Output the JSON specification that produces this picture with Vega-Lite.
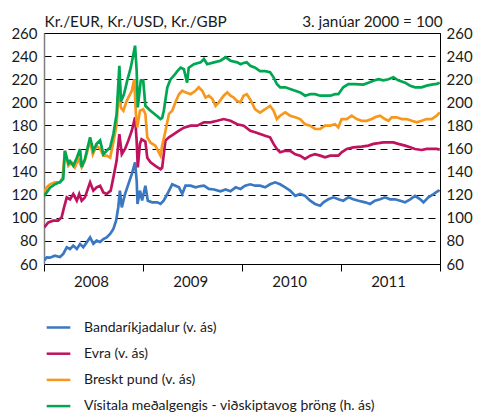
{
 "$schema": "https://vega.github.io/schema/vega-lite/v6.json",
 "width": 396, "height": 231,
 "autosize": {"type": "none"},
 "padding": {"left": 44, "top": 33, "right": 46, "bottom": 150},
 "background": "white",
 "config": {
  "font": "Lato",
  "view": {"stroke": "black", "strokeWidth": 1},
  "axis": {"labelFont": "Lato", "labelFontSize": 15, "labelColor": "#1a1a1a", "titleFont": "Lato", "titleFontWeight": "normal", "titleFontSize": 15.3, "titleColor": "#1a1a1a"}
 },
 "data": {"values": [
  {"date":"2008-01-02","series":"Bandaríkjadalur (v. ás)","value":63},
  {"date":"2008-01-11","series":"Bandaríkjadalur (v. ás)","value":65.8},
  {"date":"2008-01-23","series":"Bandaríkjadalur (v. ás)","value":65.5},
  {"date":"2008-02-10","series":"Bandaríkjadalur (v. ás)","value":67.2},
  {"date":"2008-02-29","series":"Bandaríkjadalur (v. ás)","value":66},
  {"date":"2008-03-12","series":"Bandaríkjadalur (v. ás)","value":68.7},
  {"date":"2008-03-25","series":"Bandaríkjadalur (v. ás)","value":74.4},
  {"date":"2008-04-06","series":"Bandaríkjadalur (v. ás)","value":73},
  {"date":"2008-04-18","series":"Bandaríkjadalur (v. ás)","value":75.9},
  {"date":"2008-05-01","series":"Bandaríkjadalur (v. ás)","value":73},
  {"date":"2008-05-13","series":"Bandaríkjadalur (v. ás)","value":77.3},
  {"date":"2008-05-25","series":"Bandaríkjadalur (v. ás)","value":74.5},
  {"date":"2008-06-07","series":"Bandaríkjadalur (v. ás)","value":78.8},
  {"date":"2008-06-19","series":"Bandaríkjadalur (v. ás)","value":83},
  {"date":"2008-07-01","series":"Bandaríkjadalur (v. ás)","value":77.5},
  {"date":"2008-07-13","series":"Bandaríkjadalur (v. ás)","value":80.2},
  {"date":"2008-07-26","series":"Bandaríkjadalur (v. ás)","value":79},
  {"date":"2008-08-07","series":"Bandaríkjadalur (v. ás)","value":81.6},
  {"date":"2008-08-19","series":"Bandaríkjadalur (v. ás)","value":83},
  {"date":"2008-09-01","series":"Bandaríkjadalur (v. ás)","value":86},
  {"date":"2008-09-13","series":"Bandaríkjadalur (v. ás)","value":90.3},
  {"date":"2008-09-23","series":"Bandaríkjadalur (v. ás)","value":97.5},
  {"date":"2008-10-01","series":"Bandaríkjadalur (v. ás)","value":109},
  {"date":"2008-10-07","series":"Bandaríkjadalur (v. ás)","value":123.5},
  {"date":"2008-10-14","series":"Bandaríkjadalur (v. ás)","value":109},
  {"date":"2008-10-26","series":"Bandaríkjadalur (v. ás)","value":120.6},
  {"date":"2008-11-07","series":"Bandaríkjadalur (v. ás)","value":129},
  {"date":"2008-11-20","series":"Bandaríkjadalur (v. ás)","value":138},
  {"date":"2008-12-02","series":"Bandaríkjadalur (v. ás)","value":148},
  {"date":"2008-12-08","series":"Bandaríkjadalur (v. ás)","value":132},
  {"date":"2008-12-11","series":"Bandaríkjadalur (v. ás)","value":112},
  {"date":"2008-12-20","series":"Bandaríkjadalur (v. ás)","value":123.5},
  {"date":"2008-12-28","series":"Bandaríkjadalur (v. ás)","value":115},
  {"date":"2009-01-09","series":"Bandaríkjadalur (v. ás)","value":127.8},
  {"date":"2009-01-18","series":"Bandaríkjadalur (v. ás)","value":114.8},
  {"date":"2009-02-03","series":"Bandaríkjadalur (v. ás)","value":113.4},
  {"date":"2009-02-22","series":"Bandaríkjadalur (v. ás)","value":113.4},
  {"date":"2009-03-06","series":"Bandaríkjadalur (v. ás)","value":112},
  {"date":"2009-03-18","series":"Bandaríkjadalur (v. ás)","value":115},
  {"date":"2009-03-31","series":"Bandaríkjadalur (v. ás)","value":120.6},
  {"date":"2009-04-18","series":"Bandaríkjadalur (v. ás)","value":129},
  {"date":"2009-04-30","series":"Bandaríkjadalur (v. ás)","value":127.8},
  {"date":"2009-05-13","series":"Bandaríkjadalur (v. ás)","value":126.4},
  {"date":"2009-05-25","series":"Bandaríkjadalur (v. ás)","value":120.6},
  {"date":"2009-06-06","series":"Bandaríkjadalur (v. ás)","value":127.8},
  {"date":"2009-06-25","series":"Bandaríkjadalur (v. ás)","value":127.8},
  {"date":"2009-07-13","series":"Bandaríkjadalur (v. ás)","value":126.4},
  {"date":"2009-08-01","series":"Bandaríkjadalur (v. ás)","value":127.5},
  {"date":"2009-08-13","series":"Bandaríkjadalur (v. ás)","value":127.8},
  {"date":"2009-08-31","series":"Bandaríkjadalur (v. ás)","value":125},
  {"date":"2009-09-19","series":"Bandaríkjadalur (v. ás)","value":124.5},
  {"date":"2009-10-13","series":"Bandaríkjadalur (v. ás)","value":123},
  {"date":"2009-11-01","series":"Bandaríkjadalur (v. ás)","value":124.5},
  {"date":"2009-11-19","series":"Bandaríkjadalur (v. ás)","value":123},
  {"date":"2009-12-08","series":"Bandaríkjadalur (v. ás)","value":126.4},
  {"date":"2009-12-26","series":"Bandaríkjadalur (v. ás)","value":125},
  {"date":"2010-01-12","series":"Bandaríkjadalur (v. ás)","value":127.8},
  {"date":"2010-01-31","series":"Bandaríkjadalur (v. ás)","value":129},
  {"date":"2010-02-18","series":"Bandaríkjadalur (v. ás)","value":127.8},
  {"date":"2010-03-08","series":"Bandaríkjadalur (v. ás)","value":127.8},
  {"date":"2010-03-27","series":"Bandaríkjadalur (v. ás)","value":126.4},
  {"date":"2010-04-14","series":"Bandaríkjadalur (v. ás)","value":129},
  {"date":"2010-05-03","series":"Bandaríkjadalur (v. ás)","value":130.7},
  {"date":"2010-05-21","series":"Bandaríkjadalur (v. ás)","value":129},
  {"date":"2010-06-09","series":"Bandaríkjadalur (v. ás)","value":126.4},
  {"date":"2010-06-27","series":"Bandaríkjadalur (v. ás)","value":123.5},
  {"date":"2010-07-16","series":"Bandaríkjadalur (v. ás)","value":119},
  {"date":"2010-08-03","series":"Bandaríkjadalur (v. ás)","value":120.6},
  {"date":"2010-08-21","series":"Bandaríkjadalur (v. ás)","value":119},
  {"date":"2010-09-09","series":"Bandaríkjadalur (v. ás)","value":114.8},
  {"date":"2010-09-27","series":"Bandaríkjadalur (v. ás)","value":112},
  {"date":"2010-10-16","series":"Bandaríkjadalur (v. ás)","value":110.5},
  {"date":"2010-10-28","series":"Bandaríkjadalur (v. ás)","value":113.4},
  {"date":"2010-11-15","series":"Bandaríkjadalur (v. ás)","value":116},
  {"date":"2010-12-04","series":"Bandaríkjadalur (v. ás)","value":117.7},
  {"date":"2010-12-22","series":"Bandaríkjadalur (v. ás)","value":116},
  {"date":"2011-01-09","series":"Bandaríkjadalur (v. ás)","value":114.8},
  {"date":"2011-01-28","series":"Bandaríkjadalur (v. ás)","value":117.7},
  {"date":"2011-02-15","series":"Bandaríkjadalur (v. ás)","value":116},
  {"date":"2011-03-06","series":"Bandaríkjadalur (v. ás)","value":114.8},
  {"date":"2011-03-31","series":"Bandaríkjadalur (v. ás)","value":113.4},
  {"date":"2011-04-18","series":"Bandaríkjadalur (v. ás)","value":112},
  {"date":"2011-05-06","series":"Bandaríkjadalur (v. ás)","value":114.8},
  {"date":"2011-05-25","series":"Bandaríkjadalur (v. ás)","value":116},
  {"date":"2011-06-12","series":"Bandaríkjadalur (v. ás)","value":117.7},
  {"date":"2011-07-01","series":"Bandaríkjadalur (v. ás)","value":116},
  {"date":"2011-07-19","series":"Bandaríkjadalur (v. ás)","value":116},
  {"date":"2011-08-07","series":"Bandaríkjadalur (v. ás)","value":114.8},
  {"date":"2011-08-25","series":"Bandaríkjadalur (v. ás)","value":113.4},
  {"date":"2011-09-13","series":"Bandaríkjadalur (v. ás)","value":116},
  {"date":"2011-10-01","series":"Bandaríkjadalur (v. ás)","value":119},
  {"date":"2011-10-20","series":"Bandaríkjadalur (v. ás)","value":116},
  {"date":"2011-11-01","series":"Bandaríkjadalur (v. ás)","value":113.4},
  {"date":"2011-11-19","series":"Bandaríkjadalur (v. ás)","value":117.7},
  {"date":"2011-12-08","series":"Bandaríkjadalur (v. ás)","value":120.6},
  {"date":"2011-12-26","series":"Bandaríkjadalur (v. ás)","value":123.5},
  {"date":"2011-12-31","series":"Bandaríkjadalur (v. ás)","value":123},

  {"date":"2008-01-02","series":"Evra (v. ás)","value":91.7},
  {"date":"2008-01-17","series":"Evra (v. ás)","value":96},
  {"date":"2008-02-04","series":"Evra (v. ás)","value":97.5},
  {"date":"2008-02-22","series":"Evra (v. ás)","value":97.5},
  {"date":"2008-03-06","series":"Evra (v. ás)","value":100.4},
  {"date":"2008-03-15","series":"Evra (v. ás)","value":109},
  {"date":"2008-03-25","series":"Evra (v. ás)","value":117.7},
  {"date":"2008-04-06","series":"Evra (v. ás)","value":116},
  {"date":"2008-04-18","series":"Evra (v. ás)","value":120.6},
  {"date":"2008-05-01","series":"Evra (v. ás)","value":114.8},
  {"date":"2008-05-10","series":"Evra (v. ás)","value":120.6},
  {"date":"2008-05-19","series":"Evra (v. ás)","value":114.8},
  {"date":"2008-05-31","series":"Evra (v. ás)","value":117.7},
  {"date":"2008-06-19","series":"Evra (v. ás)","value":130.7},
  {"date":"2008-07-01","series":"Evra (v. ás)","value":123.5},
  {"date":"2008-07-13","series":"Evra (v. ás)","value":126.4},
  {"date":"2008-07-26","series":"Evra (v. ás)","value":127.8},
  {"date":"2008-08-07","series":"Evra (v. ás)","value":122},
  {"date":"2008-08-19","series":"Evra (v. ás)","value":120.6},
  {"date":"2008-09-03","series":"Evra (v. ás)","value":123.5},
  {"date":"2008-09-13","series":"Evra (v. ás)","value":135},
  {"date":"2008-09-25","series":"Evra (v. ás)","value":149.5},
  {"date":"2008-10-05","series":"Evra (v. ás)","value":172.5},
  {"date":"2008-10-14","series":"Evra (v. ás)","value":155},
  {"date":"2008-10-26","series":"Evra (v. ás)","value":159.6},
  {"date":"2008-11-07","series":"Evra (v. ás)","value":166.8},
  {"date":"2008-11-20","series":"Evra (v. ás)","value":175.4},
  {"date":"2008-12-02","series":"Evra (v. ás)","value":187},
  {"date":"2008-12-08","series":"Evra (v. ás)","value":166},
  {"date":"2008-12-12","series":"Evra (v. ás)","value":143.7},
  {"date":"2008-12-20","series":"Evra (v. ás)","value":164},
  {"date":"2008-12-26","series":"Evra (v. ás)","value":168},
  {"date":"2009-01-09","series":"Evra (v. ás)","value":166},
  {"date":"2009-01-16","series":"Evra (v. ás)","value":152},
  {"date":"2009-01-28","series":"Evra (v. ás)","value":148},
  {"date":"2009-02-15","series":"Evra (v. ás)","value":145},
  {"date":"2009-03-06","series":"Evra (v. ás)","value":142},
  {"date":"2009-03-12","series":"Evra (v. ás)","value":143.5},
  {"date":"2009-03-24","series":"Evra (v. ás)","value":166.8},
  {"date":"2009-04-06","series":"Evra (v. ás)","value":169.7},
  {"date":"2009-04-24","series":"Evra (v. ás)","value":172.5},
  {"date":"2009-05-13","series":"Evra (v. ás)","value":175.4},
  {"date":"2009-05-31","series":"Evra (v. ás)","value":178},
  {"date":"2009-06-25","series":"Evra (v. ás)","value":179.8},
  {"date":"2009-07-19","series":"Evra (v. ás)","value":179.8},
  {"date":"2009-08-13","series":"Evra (v. ás)","value":182.7},
  {"date":"2009-09-06","series":"Evra (v. ás)","value":182.7},
  {"date":"2009-10-01","series":"Evra (v. ás)","value":184},
  {"date":"2009-10-25","series":"Evra (v. ás)","value":185.5},
  {"date":"2009-11-19","series":"Evra (v. ás)","value":184},
  {"date":"2009-12-14","series":"Evra (v. ás)","value":181},
  {"date":"2010-01-07","series":"Evra (v. ás)","value":179.8},
  {"date":"2010-01-31","series":"Evra (v. ás)","value":175.4},
  {"date":"2010-02-18","series":"Evra (v. ás)","value":174},
  {"date":"2010-03-08","series":"Evra (v. ás)","value":172.5},
  {"date":"2010-03-27","series":"Evra (v. ás)","value":171},
  {"date":"2010-04-14","series":"Evra (v. ás)","value":169.7},
  {"date":"2010-04-27","series":"Evra (v. ás)","value":164},
  {"date":"2010-05-09","series":"Evra (v. ás)","value":159.6},
  {"date":"2010-05-21","series":"Evra (v. ás)","value":156.7},
  {"date":"2010-06-09","series":"Evra (v. ás)","value":158},
  {"date":"2010-06-27","series":"Evra (v. ás)","value":158},
  {"date":"2010-07-16","series":"Evra (v. ás)","value":155},
  {"date":"2010-08-03","series":"Evra (v. ás)","value":153.8},
  {"date":"2010-08-21","series":"Evra (v. ás)","value":151},
  {"date":"2010-09-09","series":"Evra (v. ás)","value":153.8},
  {"date":"2010-09-27","series":"Evra (v. ás)","value":155},
  {"date":"2010-10-16","series":"Evra (v. ás)","value":153.8},
  {"date":"2010-11-03","series":"Evra (v. ás)","value":152.4},
  {"date":"2010-11-22","series":"Evra (v. ás)","value":153.8},
  {"date":"2010-12-10","series":"Evra (v. ás)","value":153.8},
  {"date":"2010-12-22","series":"Evra (v. ás)","value":153.8},
  {"date":"2011-01-03","series":"Evra (v. ás)","value":156.7},
  {"date":"2011-01-22","series":"Evra (v. ás)","value":159.6},
  {"date":"2011-02-15","series":"Evra (v. ás)","value":161},
  {"date":"2011-03-18","series":"Evra (v. ás)","value":161.6},
  {"date":"2011-04-12","series":"Evra (v. ás)","value":162.5},
  {"date":"2011-04-30","series":"Evra (v. ás)","value":164},
  {"date":"2011-05-19","series":"Evra (v. ás)","value":164.6},
  {"date":"2011-06-06","series":"Evra (v. ás)","value":165.3},
  {"date":"2011-06-25","series":"Evra (v. ás)","value":165.3},
  {"date":"2011-07-13","series":"Evra (v. ás)","value":165.3},
  {"date":"2011-07-31","series":"Evra (v. ás)","value":164},
  {"date":"2011-08-25","series":"Evra (v. ás)","value":162.5},
  {"date":"2011-09-13","series":"Evra (v. ás)","value":161},
  {"date":"2011-10-01","series":"Evra (v. ás)","value":159.6},
  {"date":"2011-10-25","series":"Evra (v. ás)","value":158.7},
  {"date":"2011-11-13","series":"Evra (v. ás)","value":159.6},
  {"date":"2011-12-01","series":"Evra (v. ás)","value":159.6},
  {"date":"2011-12-20","series":"Evra (v. ás)","value":159.6},
  {"date":"2011-12-31","series":"Evra (v. ás)","value":159},

  {"date":"2008-01-02","series":"Breskt pund (v. ás)","value":122},
  {"date":"2008-01-11","series":"Breskt pund (v. ás)","value":126.4},
  {"date":"2008-01-23","series":"Breskt pund (v. ás)","value":129},
  {"date":"2008-02-10","series":"Breskt pund (v. ás)","value":130.7},
  {"date":"2008-02-29","series":"Breskt pund (v. ás)","value":130.7},
  {"date":"2008-03-10","series":"Breskt pund (v. ás)","value":135},
  {"date":"2008-03-18","series":"Breskt pund (v. ás)","value":158},
  {"date":"2008-03-31","series":"Breskt pund (v. ás)","value":145},
  {"date":"2008-04-12","series":"Breskt pund (v. ás)","value":148},
  {"date":"2008-04-24","series":"Breskt pund (v. ás)","value":143.7},
  {"date":"2008-05-07","series":"Breskt pund (v. ás)","value":151},
  {"date":"2008-05-19","series":"Breskt pund (v. ás)","value":143.7},
  {"date":"2008-05-31","series":"Breskt pund (v. ás)","value":149.5},
  {"date":"2008-06-19","series":"Breskt pund (v. ás)","value":166.8},
  {"date":"2008-06-29","series":"Breskt pund (v. ás)","value":155},
  {"date":"2008-07-13","series":"Breskt pund (v. ás)","value":162.5},
  {"date":"2008-07-26","series":"Breskt pund (v. ás)","value":159.6},
  {"date":"2008-08-07","series":"Breskt pund (v. ás)","value":153.8},
  {"date":"2008-08-19","series":"Breskt pund (v. ás)","value":153.8},
  {"date":"2008-09-01","series":"Breskt pund (v. ás)","value":152},
  {"date":"2008-09-13","series":"Breskt pund (v. ás)","value":165.3},
  {"date":"2008-09-25","series":"Breskt pund (v. ás)","value":181},
  {"date":"2008-10-05","series":"Breskt pund (v. ás)","value":221.6},
  {"date":"2008-10-10","series":"Breskt pund (v. ás)","value":195.6},
  {"date":"2008-10-20","series":"Breskt pund (v. ás)","value":192.7},
  {"date":"2008-10-30","series":"Breskt pund (v. ás)","value":200},
  {"date":"2008-11-07","series":"Breskt pund (v. ás)","value":204},
  {"date":"2008-11-20","series":"Breskt pund (v. ás)","value":210},
  {"date":"2008-11-29","series":"Breskt pund (v. ás)","value":220},
  {"date":"2008-12-05","series":"Breskt pund (v. ás)","value":190},
  {"date":"2008-12-10","series":"Breskt pund (v. ás)","value":178.3},
  {"date":"2008-12-20","series":"Breskt pund (v. ás)","value":192.7},
  {"date":"2009-01-01","series":"Breskt pund (v. ás)","value":194},
  {"date":"2009-01-09","series":"Breskt pund (v. ás)","value":190},
  {"date":"2009-01-16","series":"Breskt pund (v. ás)","value":169.7},
  {"date":"2009-01-28","series":"Breskt pund (v. ás)","value":165},
  {"date":"2009-02-15","series":"Breskt pund (v. ás)","value":162.5},
  {"date":"2009-03-06","series":"Breskt pund (v. ás)","value":153.8},
  {"date":"2009-03-12","series":"Breskt pund (v. ás)","value":162.5},
  {"date":"2009-03-24","series":"Breskt pund (v. ás)","value":175},
  {"date":"2009-04-06","series":"Breskt pund (v. ás)","value":190},
  {"date":"2009-04-18","series":"Breskt pund (v. ás)","value":192.7},
  {"date":"2009-04-30","series":"Breskt pund (v. ás)","value":200},
  {"date":"2009-05-13","series":"Breskt pund (v. ás)","value":207},
  {"date":"2009-05-25","series":"Breskt pund (v. ás)","value":210},
  {"date":"2009-06-06","series":"Breskt pund (v. ás)","value":208.6},
  {"date":"2009-06-25","series":"Breskt pund (v. ás)","value":207},
  {"date":"2009-07-13","series":"Breskt pund (v. ás)","value":210},
  {"date":"2009-07-25","series":"Breskt pund (v. ás)","value":213},
  {"date":"2009-08-07","series":"Breskt pund (v. ás)","value":210},
  {"date":"2009-08-19","series":"Breskt pund (v. ás)","value":204},
  {"date":"2009-08-31","series":"Breskt pund (v. ás)","value":205.7},
  {"date":"2009-09-13","series":"Breskt pund (v. ás)","value":203},
  {"date":"2009-09-25","series":"Breskt pund (v. ás)","value":197},
  {"date":"2009-10-07","series":"Breskt pund (v. ás)","value":200},
  {"date":"2009-10-25","series":"Breskt pund (v. ás)","value":205.7},
  {"date":"2009-11-07","series":"Breskt pund (v. ás)","value":208.6},
  {"date":"2009-11-19","series":"Breskt pund (v. ás)","value":205.7},
  {"date":"2009-12-01","series":"Breskt pund (v. ás)","value":204},
  {"date":"2009-12-14","series":"Breskt pund (v. ás)","value":201},
  {"date":"2009-12-26","series":"Breskt pund (v. ás)","value":200},
  {"date":"2010-01-06","series":"Breskt pund (v. ás)","value":205.7},
  {"date":"2010-01-18","series":"Breskt pund (v. ás)","value":207},
  {"date":"2010-01-31","series":"Breskt pund (v. ás)","value":202.5},
  {"date":"2010-02-18","series":"Breskt pund (v. ás)","value":194},
  {"date":"2010-03-08","series":"Breskt pund (v. ás)","value":191},
  {"date":"2010-03-27","series":"Breskt pund (v. ás)","value":194},
  {"date":"2010-04-14","series":"Breskt pund (v. ás)","value":197},
  {"date":"2010-04-27","series":"Breskt pund (v. ás)","value":192.7},
  {"date":"2010-05-09","series":"Breskt pund (v. ás)","value":185.5},
  {"date":"2010-05-21","series":"Breskt pund (v. ás)","value":188.4},
  {"date":"2010-06-09","series":"Breskt pund (v. ás)","value":191.3},
  {"date":"2010-06-27","series":"Breskt pund (v. ás)","value":188.4},
  {"date":"2010-07-16","series":"Breskt pund (v. ás)","value":187},
  {"date":"2010-08-03","series":"Breskt pund (v. ás)","value":185.5},
  {"date":"2010-08-21","series":"Breskt pund (v. ás)","value":181},
  {"date":"2010-09-09","series":"Breskt pund (v. ás)","value":179.8},
  {"date":"2010-09-27","series":"Breskt pund (v. ás)","value":176.9},
  {"date":"2010-10-16","series":"Breskt pund (v. ás)","value":176.9},
  {"date":"2010-11-03","series":"Breskt pund (v. ás)","value":179.8},
  {"date":"2010-11-22","series":"Breskt pund (v. ás)","value":179.8},
  {"date":"2010-12-10","series":"Breskt pund (v. ás)","value":181},
  {"date":"2010-12-22","series":"Breskt pund (v. ás)","value":178.3},
  {"date":"2011-01-03","series":"Breskt pund (v. ás)","value":185.5},
  {"date":"2011-01-22","series":"Breskt pund (v. ás)","value":185.5},
  {"date":"2011-02-09","series":"Breskt pund (v. ás)","value":188.4},
  {"date":"2011-02-28","series":"Breskt pund (v. ás)","value":185.5},
  {"date":"2011-03-18","series":"Breskt pund (v. ás)","value":184},
  {"date":"2011-04-06","series":"Breskt pund (v. ás)","value":184},
  {"date":"2011-04-24","series":"Breskt pund (v. ás)","value":185.5},
  {"date":"2011-05-06","series":"Breskt pund (v. ás)","value":187},
  {"date":"2011-05-25","series":"Breskt pund (v. ás)","value":188.4},
  {"date":"2011-06-12","series":"Breskt pund (v. ás)","value":185.5},
  {"date":"2011-06-25","series":"Breskt pund (v. ás)","value":184},
  {"date":"2011-07-07","series":"Breskt pund (v. ás)","value":187},
  {"date":"2011-07-25","series":"Breskt pund (v. ás)","value":187},
  {"date":"2011-08-13","series":"Breskt pund (v. ás)","value":185.5},
  {"date":"2011-08-31","series":"Breskt pund (v. ás)","value":185.5},
  {"date":"2011-09-19","series":"Breskt pund (v. ás)","value":184},
  {"date":"2011-10-07","series":"Breskt pund (v. ás)","value":182.7},
  {"date":"2011-10-25","series":"Breskt pund (v. ás)","value":184},
  {"date":"2011-11-13","series":"Breskt pund (v. ás)","value":185.5},
  {"date":"2011-12-01","series":"Breskt pund (v. ás)","value":185.5},
  {"date":"2011-12-20","series":"Breskt pund (v. ás)","value":188.4},
  {"date":"2011-12-31","series":"Breskt pund (v. ás)","value":191.3},

  {"date":"2008-01-02","series":"Vísitala meðalgengis - viðskiptavog þröng (h. ás)","value":119},
  {"date":"2008-01-23","series":"Vísitala meðalgengis - viðskiptavog þröng (h. ás)","value":126},
  {"date":"2008-02-10","series":"Vísitala meðalgengis - viðskiptavog þröng (h. ás)","value":129},
  {"date":"2008-02-29","series":"Vísitala meðalgengis - viðskiptavog þröng (h. ás)","value":131},
  {"date":"2008-03-12","series":"Vísitala meðalgengis - viðskiptavog þröng (h. ás)","value":133.6},
  {"date":"2008-03-18","series":"Vísitala meðalgengis - viðskiptavog þröng (h. ás)","value":158},
  {"date":"2008-03-31","series":"Vísitala meðalgengis - viðskiptavog þröng (h. ás)","value":147},
  {"date":"2008-04-06","series":"Vísitala meðalgengis - viðskiptavog þröng (h. ás)","value":149},
  {"date":"2008-04-18","series":"Vísitala meðalgengis - viðskiptavog þröng (h. ás)","value":145},
  {"date":"2008-05-01","series":"Vísitala meðalgengis - viðskiptavog þröng (h. ás)","value":152},
  {"date":"2008-05-13","series":"Vísitala meðalgengis - viðskiptavog þröng (h. ás)","value":159.5},
  {"date":"2008-05-19","series":"Vísitala meðalgengis - viðskiptavog þröng (h. ás)","value":144},
  {"date":"2008-05-31","series":"Vísitala meðalgengis - viðskiptavog þröng (h. ás)","value":151},
  {"date":"2008-06-19","series":"Vísitala meðalgengis - viðskiptavog þröng (h. ás)","value":169.7},
  {"date":"2008-07-01","series":"Vísitala meðalgengis - viðskiptavog þröng (h. ás)","value":158},
  {"date":"2008-07-13","series":"Vísitala meðalgengis - viðskiptavog þröng (h. ás)","value":164},
  {"date":"2008-07-26","series":"Vísitala meðalgengis - viðskiptavog þröng (h. ás)","value":167},
  {"date":"2008-08-07","series":"Vísitala meðalgengis - viðskiptavog þröng (h. ás)","value":155},
  {"date":"2008-08-19","series":"Vísitala meðalgengis - viðskiptavog þröng (h. ás)","value":158},
  {"date":"2008-09-01","series":"Vísitala meðalgengis - viðskiptavog þröng (h. ás)","value":161},
  {"date":"2008-09-13","series":"Vísitala meðalgengis - viðskiptavog þröng (h. ás)","value":172.5},
  {"date":"2008-09-25","series":"Vísitala meðalgengis - viðskiptavog þröng (h. ás)","value":190},
  {"date":"2008-10-05","series":"Vísitala meðalgengis - viðskiptavog þröng (h. ás)","value":231.6},
  {"date":"2008-10-11","series":"Vísitala meðalgengis - viðskiptavog þröng (h. ás)","value":200.6},
  {"date":"2008-10-22","series":"Vísitala meðalgengis - viðskiptavog þröng (h. ás)","value":207},
  {"date":"2008-11-03","series":"Vísitala meðalgengis - viðskiptavog þröng (h. ás)","value":218.7},
  {"date":"2008-11-16","series":"Vísitala meðalgengis - viðskiptavog þröng (h. ás)","value":230},
  {"date":"2008-12-02","series":"Vísitala meðalgengis - viðskiptavog þröng (h. ás)","value":249},
  {"date":"2008-12-08","series":"Vísitala meðalgengis - viðskiptavog þröng (h. ás)","value":227},
  {"date":"2008-12-12","series":"Vísitala meðalgengis - viðskiptavog þröng (h. ás)","value":195.6},
  {"date":"2008-12-23","series":"Vísitala meðalgengis - viðskiptavog þröng (h. ás)","value":218.7},
  {"date":"2009-01-01","series":"Vísitala meðalgengis - viðskiptavog þröng (h. ás)","value":219},
  {"date":"2009-01-09","series":"Vísitala meðalgengis - viðskiptavog þröng (h. ás)","value":197},
  {"date":"2009-01-28","series":"Vísitala meðalgengis - viðskiptavog þröng (h. ás)","value":192.7},
  {"date":"2009-02-22","series":"Vísitala meðalgengis - viðskiptavog þröng (h. ás)","value":188},
  {"date":"2009-03-06","series":"Vísitala meðalgengis - viðskiptavog þröng (h. ás)","value":185.5},
  {"date":"2009-03-12","series":"Vísitala meðalgengis - viðskiptavog þröng (h. ás)","value":186.5},
  {"date":"2009-03-18","series":"Vísitala meðalgengis - viðskiptavog þröng (h. ás)","value":192.7},
  {"date":"2009-03-31","series":"Vísitala meðalgengis - viðskiptavog þröng (h. ás)","value":213},
  {"date":"2009-04-12","series":"Vísitala meðalgengis - viðskiptavog þröng (h. ás)","value":220},
  {"date":"2009-04-24","series":"Vísitala meðalgengis - viðskiptavog þröng (h. ás)","value":223},
  {"date":"2009-05-07","series":"Vísitala meðalgengis - viðskiptavog þröng (h. ás)","value":227},
  {"date":"2009-05-19","series":"Vísitala meðalgengis - viðskiptavog þröng (h. ás)","value":230},
  {"date":"2009-05-31","series":"Vísitala meðalgengis - viðskiptavog þröng (h. ás)","value":228.6},
  {"date":"2009-06-12","series":"Vísitala meðalgengis - viðskiptavog þröng (h. ás)","value":217},
  {"date":"2009-06-18","series":"Vísitala meðalgengis - viðskiptavog þröng (h. ás)","value":230},
  {"date":"2009-07-07","series":"Vísitala meðalgengis - viðskiptavog þröng (h. ás)","value":233},
  {"date":"2009-08-01","series":"Vísitala meðalgengis - viðskiptavog þröng (h. ás)","value":234.6},
  {"date":"2009-08-13","series":"Vísitala meðalgengis - viðskiptavog þröng (h. ás)","value":237.5},
  {"date":"2009-08-25","series":"Vísitala meðalgengis - viðskiptavog þröng (h. ás)","value":233},
  {"date":"2009-09-19","series":"Vísitala meðalgengis - viðskiptavog þröng (h. ás)","value":234.6},
  {"date":"2009-10-13","series":"Vísitala meðalgengis - viðskiptavog þröng (h. ás)","value":236},
  {"date":"2009-11-01","series":"Vísitala meðalgengis - viðskiptavog þröng (h. ás)","value":239},
  {"date":"2009-11-19","series":"Vísitala meðalgengis - viðskiptavog þröng (h. ás)","value":236},
  {"date":"2009-12-14","series":"Vísitala meðalgengis - viðskiptavog þröng (h. ás)","value":234.6},
  {"date":"2009-12-26","series":"Vísitala meðalgengis - viðskiptavog þröng (h. ás)","value":233},
  {"date":"2010-01-06","series":"Vísitala meðalgengis - viðskiptavog þröng (h. ás)","value":234},
  {"date":"2010-01-18","series":"Vísitala meðalgengis - viðskiptavog þröng (h. ás)","value":234.6},
  {"date":"2010-01-31","series":"Vísitala meðalgengis - viðskiptavog þröng (h. ás)","value":231.6},
  {"date":"2010-02-18","series":"Vísitala meðalgengis - viðskiptavog þröng (h. ás)","value":230},
  {"date":"2010-03-08","series":"Vísitala meðalgengis - viðskiptavog þröng (h. ás)","value":227},
  {"date":"2010-03-27","series":"Vísitala meðalgengis - viðskiptavog þröng (h. ás)","value":227},
  {"date":"2010-04-14","series":"Vísitala meðalgengis - viðskiptavog þröng (h. ás)","value":226},
  {"date":"2010-04-27","series":"Vísitala meðalgengis - viðskiptavog þröng (h. ás)","value":221.6},
  {"date":"2010-05-09","series":"Vísitala meðalgengis - viðskiptavog þröng (h. ás)","value":215.8},
  {"date":"2010-05-21","series":"Vísitala meðalgengis - viðskiptavog þröng (h. ás)","value":213},
  {"date":"2010-06-09","series":"Vísitala meðalgengis - viðskiptavog þröng (h. ás)","value":213},
  {"date":"2010-06-27","series":"Vísitala meðalgengis - viðskiptavog þröng (h. ás)","value":211.5},
  {"date":"2010-07-16","series":"Vísitala meðalgengis - viðskiptavog þröng (h. ás)","value":210},
  {"date":"2010-08-03","series":"Vísitala meðalgengis - viðskiptavog þröng (h. ás)","value":208.6},
  {"date":"2010-08-21","series":"Vísitala meðalgengis - viðskiptavog þröng (h. ás)","value":205.7},
  {"date":"2010-09-09","series":"Vísitala meðalgengis - viðskiptavog þröng (h. ás)","value":207},
  {"date":"2010-09-27","series":"Vísitala meðalgengis - viðskiptavog þröng (h. ás)","value":207},
  {"date":"2010-10-16","series":"Vísitala meðalgengis - viðskiptavog þröng (h. ás)","value":205.7},
  {"date":"2010-11-03","series":"Vísitala meðalgengis - viðskiptavog þröng (h. ás)","value":205.7},
  {"date":"2010-11-22","series":"Vísitala meðalgengis - viðskiptavog þröng (h. ás)","value":205.7},
  {"date":"2010-12-10","series":"Vísitala meðalgengis - viðskiptavog þröng (h. ás)","value":207},
  {"date":"2010-12-22","series":"Vísitala meðalgengis - viðskiptavog þröng (h. ás)","value":207},
  {"date":"2011-01-09","series":"Vísitala meðalgengis - viðskiptavog þröng (h. ás)","value":213},
  {"date":"2011-01-28","series":"Vísitala meðalgengis - viðskiptavog þröng (h. ás)","value":215.8},
  {"date":"2011-02-22","series":"Vísitala meðalgengis - viðskiptavog þröng (h. ás)","value":215.8},
  {"date":"2011-03-24","series":"Vísitala meðalgengis - viðskiptavog þröng (h. ás)","value":215.3},
  {"date":"2011-04-12","series":"Vísitala meðalgengis - viðskiptavog þröng (h. ás)","value":217},
  {"date":"2011-04-30","series":"Vísitala meðalgengis - viðskiptavog þröng (h. ás)","value":218.7},
  {"date":"2011-05-19","series":"Vísitala meðalgengis - viðskiptavog þröng (h. ás)","value":220},
  {"date":"2011-06-06","series":"Vísitala meðalgengis - viðskiptavog þröng (h. ás)","value":219},
  {"date":"2011-06-25","series":"Vísitala meðalgengis - viðskiptavog þröng (h. ás)","value":220},
  {"date":"2011-07-13","series":"Vísitala meðalgengis - viðskiptavog þröng (h. ás)","value":221.6},
  {"date":"2011-07-31","series":"Vísitala meðalgengis - viðskiptavog þröng (h. ás)","value":219},
  {"date":"2011-08-25","series":"Vísitala meðalgengis - viðskiptavog þröng (h. ás)","value":217},
  {"date":"2011-09-13","series":"Vísitala meðalgengis - viðskiptavog þröng (h. ás)","value":214.4},
  {"date":"2011-10-01","series":"Vísitala meðalgengis - viðskiptavog þröng (h. ás)","value":213},
  {"date":"2011-10-25","series":"Vísitala meðalgengis - viðskiptavog þröng (h. ás)","value":213},
  {"date":"2011-11-13","series":"Vísitala meðalgengis - viðskiptavog þröng (h. ás)","value":214.4},
  {"date":"2011-12-01","series":"Vísitala meðalgengis - viðskiptavog þröng (h. ás)","value":215.3},
  {"date":"2011-12-20","series":"Vísitala meðalgengis - viðskiptavog þröng (h. ás)","value":216},
  {"date":"2011-12-31","series":"Vísitala meðalgengis - viðskiptavog þröng (h. ás)","value":217}
 ]},
 "layer": [
  {
   "transform": [{"filter": "indexof(datum.series, 'Vísitala') != 0"}],
   "mark": {"type": "line", "strokeWidth": 2.7, "clip": true},
   "encoding": {
    "x": {"field": "date", "type": "temporal",
     "scale": {"type": "utc", "domain": [{"year": 2008, "month": 1, "date": 1, "utc": true}, {"year": 2012, "month": 1, "date": 1, "utc": true}]},
     "axis": {"values": [{"year": 2008, "month": 1, "date": 1, "utc": true}, {"year": 2009, "month": 1, "date": 1, "utc": true}, {"year": 2010, "month": 1, "date": 1, "utc": true}, {"year": 2011, "month": 1, "date": 1, "utc": true}, {"year": 2012, "month": 1, "date": 1, "utc": true}],
      "format": "%Y", "labelExpr": "utcyear(datum.value) > 2011 ? '' : datum.label",
      "labelOffset": 47, "labelAlign": "center", "labelBaseline": "top", "tickSize": 7, "tickColor": "black", "tickWidth": 1, "domainColor": "black", "labelPadding": 3, "grid": false, "title": null, "labelFlush": false, "labelOverlap": false, "labelBound": false}},
    "y": {"field": "value", "type": "quantitative",
     "scale": {"domain": [60, 260], "nice": false, "zero": false},
     "axis": {"orient": "left", "values": [60, 80, 100, 120, 140, 160, 180, 200, 220, 240, 260], "ticks": false, "labelPadding": 7, "grid": true, "gridColor": "black", "gridDash": [7, 5], "gridWidth": 1, "gridOpacity": 1, "domainColor": "#7f7f7f", "domainWidth": 1.5,
      "title": "Kr./EUR, Kr./USD, Kr./GBP", "titleAngle": 0, "titleAlign": "left", "titleBaseline": "alphabetic", "titleX": 0, "titleY": -7}},
    "color": {"field": "series", "type": "nominal",
     "scale": {"domain": ["Bandaríkjadalur (v. ás)", "Evra (v. ás)", "Breskt pund (v. ás)", "Vísitala meðalgengis - viðskiptavog þröng (h. ás)"], "range": ["#3a78c2", "#c0135f", "#f7971e", "#00a651"]},
     "legend": {"orient": "none", "legendX": 1, "legendY": 281, "direction": "vertical", "title": null, "symbolType": "stroke", "symbolSize": 560, "symbolStrokeWidth": 2.5, "labelFont": "Lato", "labelFontSize": 14, "labelColor": "#1a1a1a", "labelOffset": 12, "rowPadding": 5.2, "labelLimit": 0}}
   }
  },
  {
   "transform": [{"filter": "indexof(datum.series, 'Vísitala') == 0"}],
   "mark": {"type": "line", "strokeWidth": 2.7, "clip": true},
   "encoding": {
    "x": {"field": "date", "type": "temporal",
     "scale": {"type": "utc", "domain": [{"year": 2008, "month": 1, "date": 1, "utc": true}, {"year": 2012, "month": 1, "date": 1, "utc": true}]}},
    "y": {"field": "value", "type": "quantitative",
     "scale": {"domain": [60, 260], "nice": false, "zero": false},
     "axis": {"orient": "right", "values": [60, 80, 100, 120, 140, 160, 180, 200, 220, 240, 260], "ticks": false, "labelPadding": 6, "grid": false, "domainColor": "black", "domainWidth": 1,
      "title": "3. janúar 2000 = 100", "titleAngle": 0, "titleAlign": "right", "titleBaseline": "alphabetic", "titleX": 2, "titleY": -7}},
    "color": {"field": "series", "type": "nominal",
     "scale": {"domain": ["Bandaríkjadalur (v. ás)", "Evra (v. ás)", "Breskt pund (v. ás)", "Vísitala meðalgengis - viðskiptavog þröng (h. ás)"], "range": ["#3a78c2", "#c0135f", "#f7971e", "#00a651"]}}
   }
  }
 ],
 "resolve": {"axis": {"y": "independent"}}
}
